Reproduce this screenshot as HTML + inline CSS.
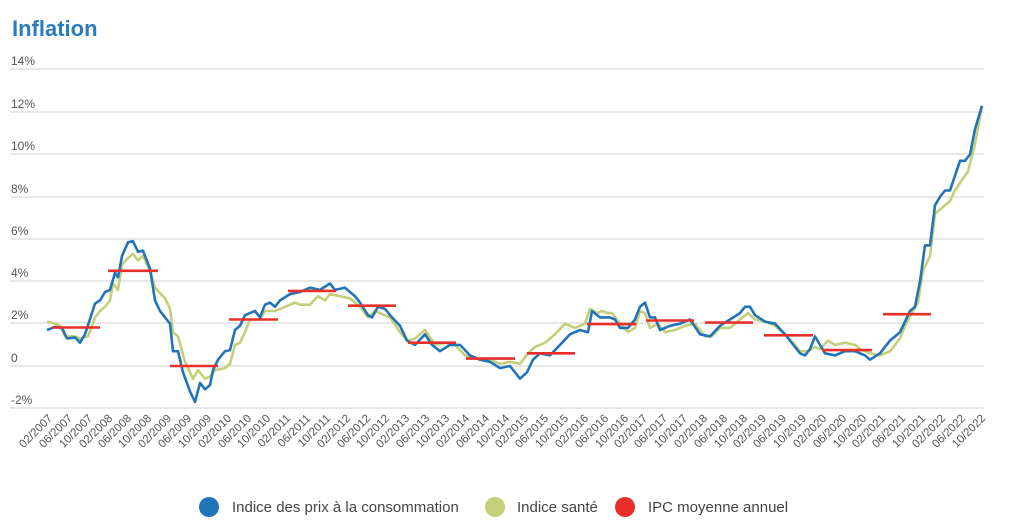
<!DOCTYPE html>
<html><head><meta charset="utf-8"><style>
html,body{margin:0;padding:0;background:#fff;width:1024px;height:525px;overflow:hidden}
svg{display:block;font-family:"Liberation Sans",sans-serif}
</style></head><body>
<svg id="c" width="1024" height="525" viewBox="0 0 1024 525">
<text x="12" y="36" font-size="22" font-weight="bold" fill="#2a7bbf">Inflation</text>
<g stroke="#e0e0e0" stroke-width="1.5">
<line x1="10" x2="984" y1="69" y2="69"/><line x1="10" x2="984" y1="112" y2="112"/>
<line x1="10" x2="984" y1="154" y2="154"/><line x1="10" x2="984" y1="197" y2="197"/>
<line x1="10" x2="984" y1="239" y2="239"/><line x1="10" x2="984" y1="281" y2="281"/>
<line x1="10" x2="984" y1="323" y2="323"/><line x1="10" x2="984" y1="366" y2="366"/>
<line x1="10" x2="984" y1="408" y2="408"/>
</g>
<g font-size="12" fill="#555">
<text x="11" y="65">14%</text><text x="11" y="108">12%</text><text x="11" y="150">10%</text>
<text x="11" y="193">8%</text><text x="11" y="235">6%</text><text x="11" y="277">4%</text>
<text x="11" y="319">2%</text><text x="11" y="362">0</text><text x="11" y="404">-2%</text>
</g>
<g id="series"></g>
<g font-size="11.5" fill="#555" text-anchor="end" id="xl">
<text transform="translate(53,419) rotate(-45)">02/2007</text>
<text transform="translate(73,419) rotate(-45)">06/2007</text>
<text transform="translate(93,419) rotate(-45)">10/2007</text>
<text transform="translate(113,419) rotate(-45)">02/2008</text>
<text transform="translate(132,419) rotate(-45)">06/2008</text>
<text transform="translate(152,419) rotate(-45)">10/2008</text>
<text transform="translate(172,419) rotate(-45)">02/2009</text>
<text transform="translate(192,419) rotate(-45)">06/2009</text>
<text transform="translate(212,419) rotate(-45)">10/2009</text>
<text transform="translate(232,419) rotate(-45)">02/2010</text>
<text transform="translate(252,419) rotate(-45)">06/2010</text>
<text transform="translate(271,419) rotate(-45)">10/2010</text>
<text transform="translate(291,419) rotate(-45)">02/2011</text>
<text transform="translate(311,419) rotate(-45)">06/2011</text>
<text transform="translate(331,419) rotate(-45)">10/2011</text>
<text transform="translate(351,419) rotate(-45)">02/2012</text>
<text transform="translate(371,419) rotate(-45)">06/2012</text>
<text transform="translate(390,419) rotate(-45)">10/2012</text>
<text transform="translate(410,419) rotate(-45)">02/2013</text>
<text transform="translate(430,419) rotate(-45)">06/2013</text>
<text transform="translate(450,419) rotate(-45)">10/2013</text>
<text transform="translate(470,419) rotate(-45)">02/2014</text>
<text transform="translate(490,419) rotate(-45)">06/2014</text>
<text transform="translate(510,419) rotate(-45)">10/2014</text>
<text transform="translate(529,419) rotate(-45)">02/2015</text>
<text transform="translate(549,419) rotate(-45)">06/2015</text>
<text transform="translate(569,419) rotate(-45)">10/2015</text>
<text transform="translate(589,419) rotate(-45)">02/2016</text>
<text transform="translate(609,419) rotate(-45)">06/2016</text>
<text transform="translate(629,419) rotate(-45)">10/2016</text>
<text transform="translate(648,419) rotate(-45)">02/2017</text>
<text transform="translate(668,419) rotate(-45)">06/2017</text>
<text transform="translate(688,419) rotate(-45)">10/2017</text>
<text transform="translate(708,419) rotate(-45)">02/2018</text>
<text transform="translate(728,419) rotate(-45)">06/2018</text>
<text transform="translate(748,419) rotate(-45)">10/2018</text>
<text transform="translate(767,419) rotate(-45)">02/2019</text>
<text transform="translate(787,419) rotate(-45)">06/2019</text>
<text transform="translate(807,419) rotate(-45)">10/2019</text>
<text transform="translate(827,419) rotate(-45)">02/2020</text>
<text transform="translate(847,419) rotate(-45)">06/2020</text>
<text transform="translate(867,419) rotate(-45)">10/2020</text>
<text transform="translate(886,419) rotate(-45)">02/2021</text>
<text transform="translate(906,419) rotate(-45)">06/2021</text>
<text transform="translate(926,419) rotate(-45)">10/2021</text>
<text transform="translate(946,419) rotate(-45)">02/2022</text>
<text transform="translate(966,419) rotate(-45)">06/2022</text>
<text transform="translate(986,419) rotate(-45)">10/2022</text>
</g>
<g font-size="15" fill="#444">
<circle cx="209" cy="507" r="10" fill="#2274b8"/><text x="232" y="512">Indice des prix à la consommation</text>
<circle cx="495" cy="507" r="10" fill="#c5cf7a"/><text x="517" y="512">Indice santé</text>
<circle cx="625" cy="507" r="10" fill="#e8302b"/><text x="648" y="512">IPC moyenne annuel</text>
</g>
</svg>
<script>
var Y=function(v){return (366-v*21.15).toFixed(1)};
var blue=[47,1.7,55,1.85,62,1.8,67,1.3,75,1.35,80,1.1,85,1.5,95,2.95,100,3.1,105,3.5,110,3.6,115,4.4,118,4.2,122,5.2,128,5.85,133,5.9,138,5.4,143,5.45,150,4.6,155,3.1,160,2.6,170,2.0,173,0.7,178,0.7,183,-0.3,190,-1.2,195,-1.7,200,-0.8,205,-1.1,210,-0.9,213,-0.2,218,0.3,225,0.7,230,0.75,235,1.7,240,1.9,245,2.4,255,2.6,260,2.3,265,2.9,270,3.0,275,2.8,280,3.1,290,3.4,300,3.5,310,3.7,320,3.6,330,3.9,335,3.6,345,3.7,355,3.3,360,3.0,368,2.4,372,2.3,378,2.8,385,2.7,392,2.3,400,1.9,407,1.2,415,1.0,425,1.5,432,1.0,440,0.7,450,1.0,460,1.0,470,0.5,480,0.3,490,0.2,500,-0.1,510,0.0,520,-0.6,527,-0.3,533,0.3,540,0.6,550,0.5,560,1.0,570,1.5,580,1.7,588,1.6,592,2.6,600,2.3,610,2.3,615,2.2,620,1.8,628,1.8,635,2.2,640,2.8,645,3.0,650,2.3,655,2.3,660,1.7,670,1.9,680,2.0,690,2.2,700,1.5,710,1.4,720,1.9,730,2.2,740,2.5,745,2.8,750,2.8,755,2.4,765,2.1,775,2.0,785,1.5,795,0.9,800,0.6,805,0.5,810,0.8,815,1.4,820,1.0,825,0.6,835,0.5,845,0.7,855,0.7,860,0.6,865,0.5,870,0.3,880,0.6,890,1.2,900,1.6,905,2.1,910,2.6,915,2.8,920,4.0,925,5.7,930,5.7,935,7.6,940,8.0,945,8.3,950,8.3,955,9.0,960,9.7,965,9.7,970,10.0,975,11.2,982,12.3];
var green=[47,2.1,52,2.05,60,1.9,65,1.4,75,1.4,80,1.3,88,1.4,95,2.3,100,2.6,105,2.8,110,3.1,113,3.9,118,3.6,122,4.8,128,5.1,133,5.3,138,5.0,143,5.2,150,4.5,155,3.7,165,3.2,170,2.7,173,1.6,178,1.4,185,0.2,193,-0.6,198,-0.2,205,-0.6,210,-0.5,215,-0.2,225,-0.1,230,0.1,235,1.0,240,1.1,245,1.6,250,2.2,260,2.2,265,2.6,275,2.6,280,2.7,295,3.0,300,2.9,310,2.9,318,3.3,325,3.1,330,3.4,340,3.3,350,3.2,360,2.8,368,2.3,375,2.6,380,2.5,390,2.3,400,1.6,407,1.2,415,1.3,425,1.7,435,1.0,445,1.1,455,1.0,465,0.5,480,0.3,490,0.3,500,0.1,510,0.2,520,0.1,528,0.6,535,0.9,545,1.1,555,1.5,565,2.0,575,1.8,585,2.0,590,2.7,597,2.5,602,2.6,608,2.5,612,2.5,620,2.0,628,1.6,635,1.8,640,2.6,645,2.5,650,1.8,658,2.0,665,1.6,675,1.7,685,1.9,695,2.0,705,1.4,712,1.4,720,1.8,730,1.8,740,2.2,748,2.5,755,2.2,765,2.1,775,1.9,785,1.5,795,1.0,800,0.7,808,0.7,815,0.9,820,0.8,828,1.2,835,1.0,845,1.1,855,1.0,860,0.8,870,0.6,880,0.5,890,0.7,895,1.0,900,1.3,905,1.9,912,2.5,918,3.0,923,4.5,930,5.2,935,7.2,945,7.6,950,7.8,955,8.3,962,8.8,968,9.2,975,10.5,982,12.3];
var red=[52,100,1.82,108,158,4.5,170,218,0,229,278,2.2,288,336,3.55,348,396,2.85,408,456,1.1,466,515,0.35,527,575,0.6,587,636,1.98,646,694,2.15,705,753,2.05,764,813,1.45,822,872,0.75,883,931,2.45];
function pl(a,c,w){var p=[];for(var i=0;i<a.length;i+=2)p.push(a[i]+','+Y(a[i+1]));return '<polyline fill="none" stroke="'+c+'" stroke-width="'+w+'" stroke-linejoin="round" points="'+p.join(' ')+'"/>';}
var h=pl(green,'#c5cf7a',2.6)+pl(blue,'#2274b8',2.6);
for(var i=0;i<red.length;i+=3)h+='<line x1="'+red[i]+'" x2="'+red[i+1]+'" y1="'+Y(red[i+2])+'" y2="'+Y(red[i+2])+'" stroke="#e8302b" stroke-width="2.6"/>';
document.getElementById('series').innerHTML=h;
</script>
</body></html>
